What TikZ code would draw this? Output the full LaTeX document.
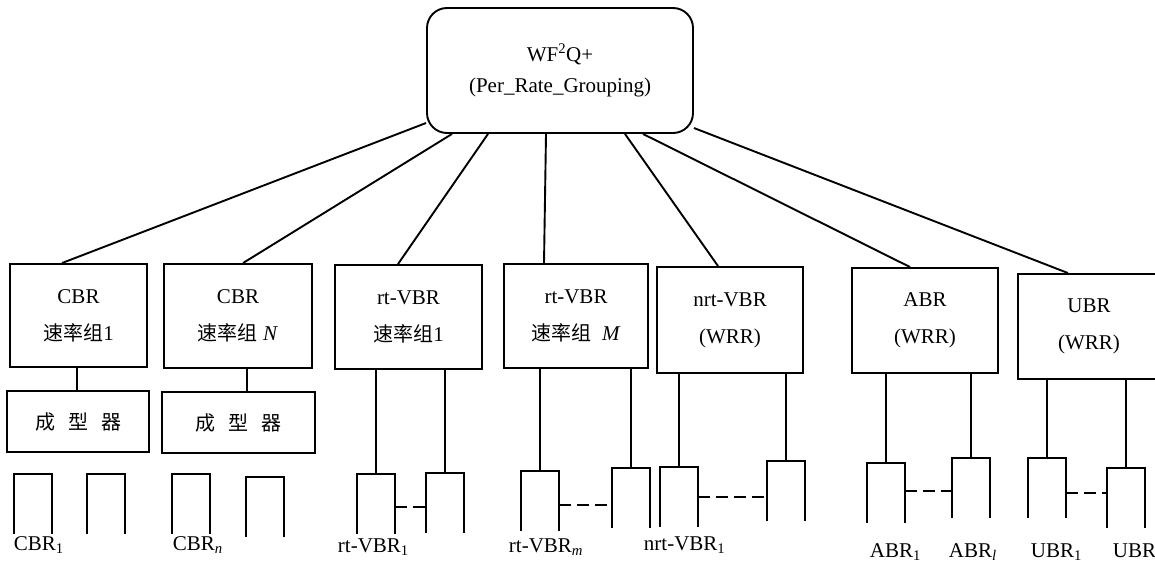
\documentclass[tikz,border=0pt]{standalone}
\usepackage{fontspec}
\setmainfont{Liberation Serif}
\newfontfamily\cjk{Noto Sans CJK SC}
\newcommand\zh[1]{{\cjk\fontsize{20}{37}\selectfont #1}}
\begin{document}
\begin{tikzpicture}[x=1pt, y=-1pt, line width=1.9pt,
  box/.style={draw, inner sep=0pt, align=center, font=\fontsize{21}{37}\selectfont},
  queue/.style={inner sep=0pt, minimum width=36pt, minimum height=58pt, anchor=north west},
  lab/.style={inner sep=0pt, anchor=base west, font=\fontsize{21}{25}\selectfont},
  gap/.style={dash pattern=on 12pt off 6pt}]
\useasboundingbox (0,0) rectangle (1155,565);
\clip (0,0) rectangle (1155,565);
\node[box, rounded corners=20pt, minimum width=266pt, minimum height=125pt, font=\fontsize{21}{31}\selectfont] (top) at (560,70.5) {WF\textsuperscript{2}Q+\\(Per\_Rate\_Grouping)};
\node[box, minimum width=137pt, minimum height=103pt] (cbrA) at (78.5,315.5) {CBR\\\zh{速率组}1};
\node[box, minimum width=148pt, minimum height=104pt] (cbrN) at (238,316) {CBR\\\zh{速率组} \textit{N}};
\node[box, minimum width=142pt, minimum height=61pt] (shA) at (78,421.5) {\zh{成\hspace{13pt}型\hspace{13pt}器}};
\node[box, minimum width=153pt, minimum height=61pt] (shN) at (238.5,422.5) {\zh{成\hspace{13pt}型\hspace{13pt}器}};
\node[box, minimum width=147pt, minimum height=104pt] (rtA) at (408.5,317) {rt-VBR\\\zh{速率组}1};
\node[box, minimum width=144pt, minimum height=104pt] (rtM) at (576,316) {rt-VBR\\\zh{速率组}\ \ \textit{M}};
\node[box, minimum width=146pt, minimum height=106pt] (nrt) at (730,320) {nrt-VBR\\(WRR)};
\node[box, minimum width=146pt, minimum height=105pt] (abr) at (925,320.5) {ABR\\(WRR)};
\node[box, minimum width=142pt, minimum height=105pt] (ubr) at (1089,326.5) {UBR\\(WRR)};
\node[queue] (q1) at (14,474) {};
\node[queue] (q2) at (87,474) {};
\node[queue] (q3) at (172,474) {};
\node[queue] (q4) at (246,477) {};
\node[queue] (q5) at (357,474) {};
\node[queue] (q6) at (426,473) {};
\node[queue] (q7) at (521,471) {};
\node[queue] (q8) at (612,468) {};
\node[queue] (q9) at (660,467) {};
\node[queue] (q10) at (767,461) {};
\node[queue] (q11) at (867,463) {};
\node[queue] (q12) at (952,458) {};
\node[queue] (q13) at (1028,458) {};
\node[queue] (q14) at (1107,468) {};
\foreach \i in {1,...,14}
  \draw (q\i.south west) |- (q\i.north east) -- (q\i.south east);
\node[lab] (l1) at (13,550) {CBR\textsubscript{1}};
\node[lab] (l2) at (172,550) {CBR\textsubscript{\textit{n}}};
\node[lab] (l3) at (337,552) {rt-VBR\textsubscript{1}};
\node[lab] (l4) at (508,552) {rt-VBR\textsubscript{\textit{m}}};
\node[lab] (l5) at (643,550) {nrt-VBR\textsubscript{1}};
\node[lab] (l6) at (869,557) {ABR\textsubscript{1}};
\node[lab] (l7) at (948,557) {ABR\textsubscript{\textit{l}}};
\node[lab] (l8) at (1030,557) {UBR\textsubscript{1}};
\node[lab] (l9) at (1112,557) {UBR};
\draw ([yshift=-52.5pt]top.west) -- ([xshift=-16.5pt]cbrA.north);
\draw ([xshift=-108pt]top.south) -- ([xshift=5pt]cbrN.north);
\draw ([xshift=-72pt]top.south) -- ([xshift=-10.5pt]rtA.north);
\draw ([xshift=-14pt]top.south) -- ([xshift=-32pt]rtM.north);
\draw ([xshift=65pt]top.south) -- ([xshift=-12pt]nrt.north);
\draw ([xshift=83pt]top.south) -- ([xshift=-15pt]abr.north);
\draw ([yshift=-57.5pt]top.east) -- ([xshift=-21pt]ubr.north);
\draw ([xshift=-1.5pt]cbrA.south) -- ([xshift=-1pt]shA.north);
\draw ([xshift=9pt]cbrN.south) -- ([xshift=8.5pt]shN.north);
\foreach \b/\q in {rtA/q5, rtA/q6, rtM/q7, rtM/q8, nrt/q9, nrt/q10, abr/q11, abr/q12, ubr/q13, ubr/q14}
  \draw (\b.south -| \q.north) -- (\q.north);
\draw[gap] ([yshift=-33pt]q5.north east) -- ([yshift=-34pt]q6.north west);
\draw[gap] ([yshift=-34pt]q7.north east) -- ([yshift=-37pt]q8.north west);
\draw[gap] ([yshift=-30pt]q9.north east) -- ([yshift=-36pt]q10.north west);
\draw[gap] ([yshift=-28pt]q11.north east) -- ([yshift=-33pt]q12.north west);
\draw[gap] ([yshift=-35pt]q13.north east) -- ([yshift=-25pt]q14.north west);
\end{tikzpicture}
\end{document}
